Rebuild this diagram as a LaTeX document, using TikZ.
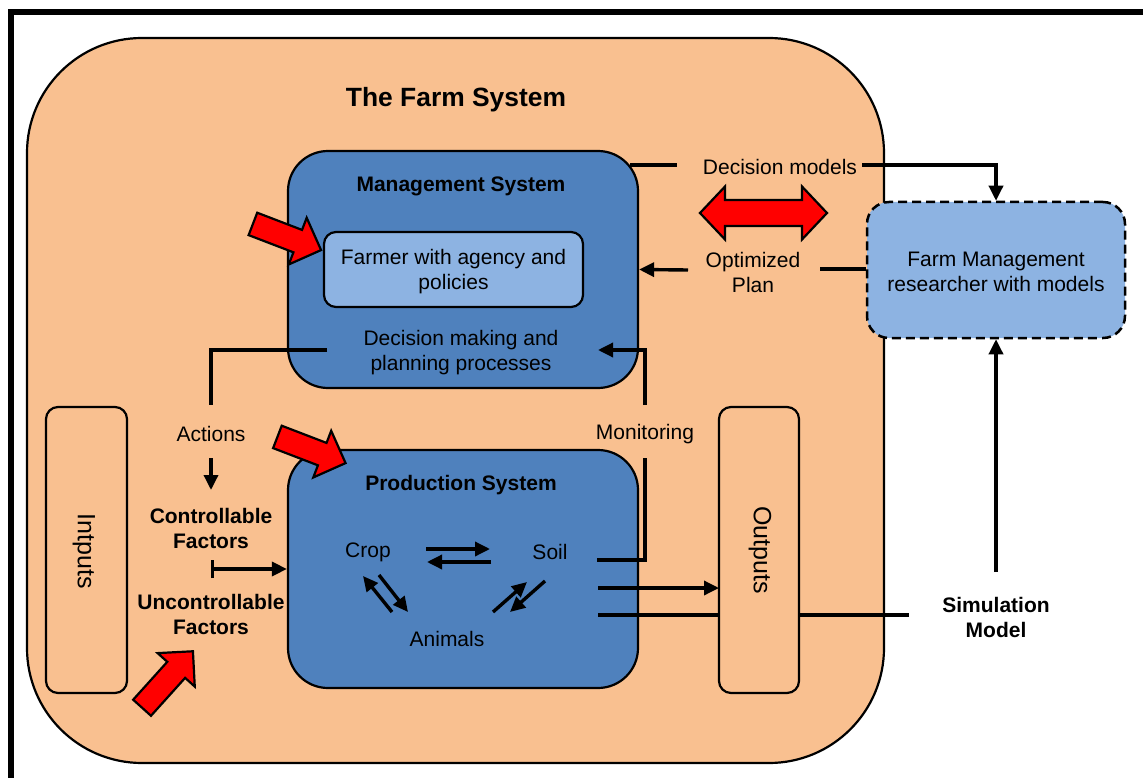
\documentclass[tikz,border=0pt]{standalone}
\usepackage{fontspec}
\setmainfont{Liberation Sans}
\usetikzlibrary{arrows.meta}
\definecolor{peach}{RGB}{249,192,144}
\definecolor{mblue}{RGB}{79,129,189}
\definecolor{lblue}{RGB}{141,179,226}
\tikzset{
  box/.style={draw=black, line width=2.2pt, inner sep=0pt},
  txt/.style={font=\fontsize{21}{25}\selectfont, align=center, inner sep=0pt, text=black},
  btxt/.style={font=\bfseries\fontsize{21}{25}\selectfont, align=center, inner sep=0pt, text=black},
  rtxt/.style={font=\fontsize{25}{29}\selectfont, inner sep=0pt, text=black, rotate=-90},
  conn/.style={draw=black, line width=3.4pt},
  arr/.style={-{Triangle[length=15pt,width=14pt]}},
  redarrow/.style={draw=black, line width=2.2pt, fill=red, line join=miter},
}
\begin{document}
\begin{tikzpicture}[x=1pt,y=-1pt]
\useasboundingbox (0,0) rectangle (1143,778);
\fill[white] (0,0) rectangle (1143,778);
% outer frame
\draw[line width=5.5pt] (11,900) -- (11,12) -- (1300,12);
% farm system
\node[box, fill=peach, minimum width=857pt, minimum height=725pt, rounded corners=115pt] (farm) at (455.5,400.5) {};
\node[font=\bfseries\fontsize{26.4}{30}\selectfont, inner sep=0pt] (title) at (456,100) {The Farm System};
% management system
\node[box, fill=mblue, minimum width=350pt, minimum height=237pt, rounded corners=40pt] (mgmt) at (463,269.5) {};
\node[btxt] (mgmtt) at (461,186) {Management System};
\node[box, fill=lblue, minimum width=259pt, minimum height=75pt, rounded corners=12pt] (farmer) at (453.5,269.5) {};
\node[txt] (farmert) at (453.5,272) {Farmer with agency and\\policies};
\node[txt] (decm) at (461,353) {Decision making and\\planning processes};
% production system
\node[box, fill=mblue, minimum width=350pt, minimum height=238pt, rounded corners=40pt] (prod) at (463,569) {};
\node[btxt] (prodt) at (461,485) {Production System};
\node[txt] (crop) at (368,552) {Crop};
\node[txt] (soil) at (550,552) {Soil};
\node[txt] (animals) at (447,639) {Animals};
% inputs / outputs
\node[box, fill=peach, minimum width=81pt, minimum height=286pt, rounded corners=12pt] (inp) at (86.5,550) {};
\node[rtxt] (inpt) at (84,551) {Intputs};
\node[box, fill=peach, minimum width=80pt, minimum height=286pt, rounded corners=12pt] (outp) at (759,550) {};
\node[rtxt] (outpt) at (760,550) {Outputs};
% researcher
\node[box, fill=lblue, line width=2.5pt, dash pattern=on 9pt off 5pt, minimum width=258pt, minimum height=136pt, rounded corners=22pt] (res) at (996,270) {};
\node[txt] (rest) at (996,272) {Farm Management\\researcher with models};
% labels
\node[txt] (dmod) at (780,167) {Decision models};
\node[txt] (opt) at (753,272) {Optimized\\Plan};
\node[txt] (act) at (211,434) {Actions};
\node[txt] (mon) at (645,434) {Monitoring};
\node[btxt] (ctrl) at (211,528) {Controllable\\Factors};
\node[btxt] (unctrl) at (211,614) {Uncontrollable\\Factors};
\node[btxt] (sim) at (996,617) {Simulation\\Model};
% coordinates
\coordinate (dmA) at (630,165);
\coordinate (dmB) at (677,165);
\coordinate (dmC) at (862,165);
\coordinate (opA) at (820,269);
\coordinate (opB) at (688,270);
\coordinate (acA) at (327,350);
\coordinate (acB) at (211,405);
\coordinate (acC) at (211,458);
\coordinate (acD) at (211,490);
\coordinate (cfA) at (211,569);
\coordinate (moA) at (597,560);
\coordinate (moB) at (645,458);
\coordinate (moC) at (645,405);
\coordinate (moD) at (598,350);
\coordinate (ouA) at (598,588);
\coordinate (ouB) at (719,588);
\coordinate (siA) at (598,615);
\coordinate (siB) at (719,615);
\coordinate (siC) at (799,615);
\coordinate (siD) at (909,615);
\coordinate (siE) at (996,572);
% connectors
\draw[conn] (dmA) -- (dmB);
\draw[conn,arr] (dmC) -| (res.north);
\draw[conn] (res.west |- opA) -- (opA);
\draw[conn,arr] (opB) -- (mgmt.east);
\draw[conn] (acA) -| (acB);
\draw[conn,arr] (acC) -- (acD);
\draw[conn,{Bar[width=18pt]}-{Triangle[length=15pt,width=14pt]}] (cfA) -- (prod.west);
\draw[conn] (moA) -| (moB);
\draw[conn,arr] (moC) |- (moD);
\draw[conn,arr] (ouA) -- (ouB);
\draw[conn] (siA) -- (siB);
\draw[conn] (siC) -- (siD);
\draw[conn,arr] (siE) -- (res.south);
% internal production arrows
\coordinate (csA) at (426,549); \coordinate (csB) at (490,549);
\coordinate (scA) at (491,562); \coordinate (scB) at (427,562);
\coordinate (acr1) at (392,612); \coordinate (acr2) at (363,576);
\coordinate (cra1) at (379,575); \coordinate (cra2) at (408,612);
\coordinate (as1) at (493,612); \coordinate (as2) at (527,582);
\coordinate (sa1) at (545,581); \coordinate (sa2) at (510,612);
\draw[conn,arr] (csA) -- (csB);
\draw[conn,arr] (scA) -- (scB);
\draw[conn,arr] (acr1) -- (acr2);
\draw[conn,arr] (cra1) -- (cra2);
\draw[conn,arr] (as1) -- (as2);
\draw[conn,arr] (sa1) -- (sa2);
% red arrows
\begin{scope}[shift={(287,237)}, rotate=-21]
\draw[redarrow] (-36.5,-12) -- (11.5,-12) -- (11.5,-25) -- (36.5,0) -- (11.5,25) -- (11.5,12) -- (-36.5,12) -- cycle;
\end{scope}
\begin{scope}[shift={(311.5,450)}, rotate=-21]
\draw[redarrow] (-36.5,-12) -- (11.5,-12) -- (11.5,-25) -- (36.5,0) -- (11.5,25) -- (11.5,12) -- (-36.5,12) -- cycle;
\end{scope}
\begin{scope}[shift={(167.5,679.5)}, rotate=48]
\draw[redarrow] (-38,-12) -- (13,-12) -- (13,-25) -- (38,0) -- (13,25) -- (13,12) -- (-38,12) -- cycle;
\end{scope}
\begin{scope}[shift={(763.5,213)}]
\draw[redarrow] (-63.5,0) -- (-38.5,-26.5) -- (-38.5,-13) -- (38.5,-13) -- (38.5,-26.5) -- (63.5,0) -- (38.5,26.5) -- (38.5,13) -- (-38.5,13) -- (-38.5,26.5) -- cycle;
\end{scope}
\end{tikzpicture}
\end{document}
